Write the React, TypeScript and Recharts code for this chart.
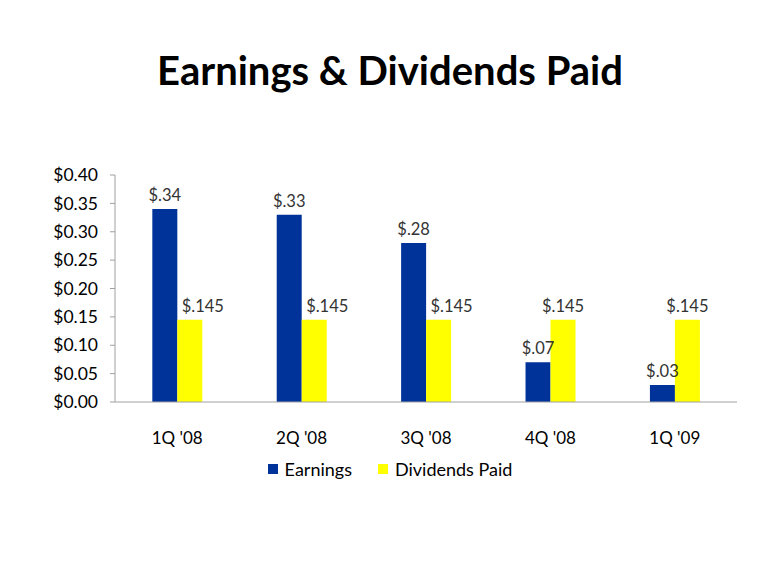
import React from 'react';
import { BarChart, Bar, XAxis, YAxis, Legend, LabelList } from 'recharts';

const quarters = ["1Q '08", "2Q '08", "3Q '08", "4Q '08", "1Q '09"];
const earnings = [0.34, 0.33, 0.28, 0.07, 0.03];
const dividends = [0.145, 0.145, 0.145, 0.145, 0.145];
const yTicks = [0, 0.05, 0.1, 0.15, 0.2, 0.25, 0.3, 0.35, 0.4];
const boundaryTicks = [0, 1, 2, 3, 4, 5];
const seriesNames = ['Earnings', 'Dividends Paid'];
const seriesColors = ['#003399', '#FFFF00'];

const data = quarters.map((q, i) => ({ q, idx: i + 0.5, earnings: earnings[i], dividends: dividends[i] }));

const FONT = "Lato, 'Open Sans', sans-serif";
const fmtLabel = (v: any) => '$' + String(v).replace(/^0/, '');
const fmtTick = (v: number) => '$' + v.toFixed(2);

const DivLabel = (props: any) => {
  const { x, y, width, value, index } = props;
  const shift = earnings[index] > dividends[index] ? 13 : 0;
  return (
    <text x={x + width / 2 + shift} y={y - 8} textAnchor="middle" fill="#333" fontSize={16.5} fontFamily={FONT}>
      {fmtLabel(value)}
    </text>
  );
};

const EarnLabel = (props: any) => {
  const { x, y, width, value } = props;
  return (
    <text x={x + width / 2} y={y - 8} textAnchor="middle" fill="#333" fontSize={16.5} fontFamily={FONT}>
      {fmtLabel(value)}
    </text>
  );
};

const LegendContent = () => (
  <div style={{ display: 'flex', justifyContent: 'center', alignItems: 'center', gap: 26, fontSize: 18, fontFamily: FONT, color: '#000', height: 24 }}>
    {seriesNames.map((n, i) => (
      <div key={n} style={{ display: 'flex', alignItems: 'center', gap: 7 }}>
        <span style={{ display: 'inline-block', width: 10, height: 10, background: seriesColors[i] }} />
        <span>{n}</span>
      </div>
    ))}
  </div>
);

export default function App() {
  return (
    <div style={{ position: 'absolute', left: 0, top: 0, width: 780, height: 585, background: '#fff', fontFamily: FONT }}>
      <div style={{ position: 'absolute', left: 0, top: 46, width: 780, textAlign: 'center', fontSize: 40, fontWeight: 700, color: '#000', fontFamily: FONT }}>
        Earnings &amp; Dividends Paid
      </div>
      <BarChart
        width={780}
        height={585}
        data={data}
        margin={{ top: 175, right: 43, bottom: 99, left: 0 }}
        barCategoryGap="30%"
        barGap={0}
        style={{ position: 'absolute', left: 0, top: 0 }}
      >
        <XAxis
          xAxisId="b"
          type="number"
          dataKey="idx"
          domain={[0, 5]}
          ticks={boundaryTicks}
          tick={false}
          axisLine={false}
          tickLine={{ stroke: '#a0a0a0' }}
          tickSize={6}
          height={0}
        />
        <XAxis
          xAxisId="c"
          dataKey="q"
          axisLine={{ stroke: '#a0a0a0' }}
          tickLine={false}
          tickMargin={24}
          tick={{ fill: '#000', fontSize: 17, fontFamily: FONT }}
          height={60}
        />
        <YAxis
          domain={[0, 0.4]}
          ticks={yTicks}
          tickFormatter={fmtTick}
          width={115}
          axisLine={{ stroke: '#a0a0a0' }}
          tickLine={{ stroke: '#a0a0a0' }}
          tickSize={5}
          tickMargin={12}
          tick={{ fill: '#000', fontSize: 17.5, fontFamily: FONT }}
        />
        <Legend
          verticalAlign="bottom"
          content={<LegendContent />}
          wrapperStyle={{ top: 457, left: 0, width: 780, height: 24 }}
        />
        <Bar xAxisId="c" dataKey="earnings" name="Earnings" fill="#003399" isAnimationActive={false}>
          <LabelList dataKey="earnings" content={<EarnLabel />} />
        </Bar>
        <Bar xAxisId="c" dataKey="dividends" name="Dividends Paid" fill="#FFFF00" isAnimationActive={false}>
          <LabelList dataKey="dividends" content={<DivLabel />} />
        </Bar>
      </BarChart>
    </div>
  );
}
